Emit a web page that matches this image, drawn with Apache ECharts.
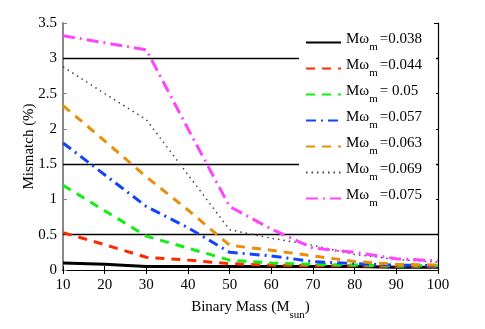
<!DOCTYPE html>
<html>
<head>
<meta charset="utf-8">
<script src="https://cdn.jsdelivr.net/npm/echarts@6/dist/echarts.min.js"></script>
<style>
  html, body { margin: 0; padding: 0; background: #fff; }
  #m1 { width: 485px; height: 329px; }
</style>
</head>
<body>
<div id="m1"></div>
<script>
// binary mass (M_sun)
var masses = [10, 20, 30, 40, 50, 60, 70, 80, 90, 100];
var omegaLabels = ['=0.038', '=0.044', '= 0.05', '=0.057', '=0.063', '=0.069', '=0.075'];

var mm038 = [0.10, 0.08, 0.05, 0.05, 0.05, 0.05, 0.05, 0.05, 0.04, 0.04];
var mm044 = [0.53, 0.36, 0.18, 0.14, 0.09, 0.07, 0.06, 0.06, 0.05, 0.05];
var mm050 = [1.20, 0.84, 0.48, 0.31, 0.14, 0.10, 0.08, 0.07, 0.06, 0.06];
var mm057 = [1.80, 1.35, 0.90, 0.60, 0.25, 0.20, 0.12, 0.09, 0.07, 0.06];
var mm063 = [2.33, 1.83, 1.32, 0.85, 0.35, 0.28, 0.20, 0.12, 0.08, 0.07];
var mm069 = [2.88, 2.50, 2.13, 1.35, 0.57, 0.45, 0.35, 0.22, 0.15, 0.11];
var mm075 = [3.32, 3.22, 3.12, 2.00, 0.90, 0.58, 0.31, 0.25, 0.16, 0.13];

// reference lines
var refLevels = [0.5, 1.5, 3];

var serif = '"Liberation Serif", "DejaVu Serif", serif';

var styles = [
    { data: mm038, color: '#000000', type: 'solid', width: 3 },
    { data: mm044, color: '#ff2a00', type: [9, 7], width: 3 },
    { data: mm050, color: '#11ee11', type: [9, 7], width: 3 },
    { data: mm057, color: '#1144ff', type: [10, 5, 2, 5], width: 3 },
    { data: mm063, color: '#e8900a', type: [9, 7], width: 3 },
    { data: mm069, color: '#444444', type: [1.5, 4], width: 1.5 },
    { data: mm075, color: '#ff44ff', type: [12, 5, 2, 5], width: 3 }
];

function pairs(arr) {
    return arr.map(function (v, i) { return [masses[i], v]; });
}

var series = styles.map(function (s, i) {
    return {
        name: 'Mω_m' + omegaLabels[i],
        type: 'line',
        symbol: 'none',
        data: pairs(s.data),
        lineStyle: { color: s.color, type: s.type, width: s.width },
        itemStyle: { color: s.color },
        z: 3
    };
});

// horizontal black lines
series.push({
    name: 'ref',
    type: 'line',
    data: [],
    silent: true,
    markLine: {
        silent: true,
        symbol: 'none',
        z: 1,
        label: { show: false },
        lineStyle: { color: '#000', type: 'solid', width: 1.3 },
        data: refLevels.map(function (v) { return { yAxis: v }; })
    },
    z: 1
});

var myChart = echarts.init(document.getElementById('m1'));
var option = {
    backgroundColor: '#fff',
    animation: false,
    grid: { left: 63, right: 47, top: 23, bottom: 59 },
    legend: {
        orient: 'vertical',
        left: 299,
        top: 25,
        z: 10,
        padding: [7, 14, 12, 6],
        backgroundColor: '#fff',
        itemWidth: 35,
        itemHeight: 12,
        itemGap: 5,
        itemStyle: { opacity: 0 },
        data: series.slice(0, 7).map(function (s) { return s.name; }),
        formatter: function (name) {
            var i = series.findIndex(function (s) { return s.name === name; });
            return '{a|Mω}{s|m}{b|' + omegaLabels[i] + '}';
        },
        textStyle: {
            color: '#000',
            rich: {
                a: { fontFamily: serif, fontSize: 15, color: '#000', padding: [0, 0, 6, 0] },
                s: { fontFamily: serif, fontSize: 11, color: '#000', padding: [10, 0, 0, 0] },
                b: { fontFamily: serif, fontSize: 15, color: '#000', padding: [0, 0, 6, 2] }
            }
        }
    },
    xAxis: [{
        type: 'value',
        min: 10,
        max: 100,
        interval: 10,
        name: '{a|Binary Mass (M}{s|sun}{a|)}',
        nameLocation: 'middle',
        nameGap: 30,
        nameTextStyle: {
            rich: {
                a: { fontFamily: serif, fontSize: 15, color: '#000', padding: [0, 0, 6, 0] },
                s: { fontFamily: serif, fontSize: 11, color: '#000', padding: [10, 0, 0, 0] }
            }
        },
        axisLine: { lineStyle: { color: '#000', width: 1.2 } },
        axisTick: { inside: true, length: 4, lineStyle: { color: '#000' } },
        axisLabel: { fontFamily: serif, fontSize: 15, color: '#000', margin: 8 },
        splitLine: { show: false }
    }, {
        type: 'value',
        position: 'top',
        min: 10,
        max: 100,
        interval: 10,
        axisLine: { show: true, lineStyle: { color: '#000', width: 1.2 } },
        axisTick: { show: true, inside: true, length: 4, lineStyle: { color: '#000' } },
        axisLabel: { show: false },
        splitLine: { show: false }
    }],
    yAxis: [{
        type: 'value',
        min: 0,
        max: 3.5,
        interval: 0.5,
        name: 'Mismatch (%)',
        nameLocation: 'middle',
        nameGap: 26,
        nameMoveOverlap: false,
        nameTextStyle: { fontFamily: serif, fontSize: 15, color: '#000' },
        axisLine: { show: true, lineStyle: { color: '#888', width: 2 } },
        axisTick: { show: true, inside: true, length: 4, lineStyle: { color: '#888' } },
        axisLabel: { fontFamily: serif, fontSize: 15, color: '#000', margin: 6 },
        splitLine: { show: false }
    }, {
        type: 'value',
        position: 'right',
        min: 0,
        max: 3.5,
        interval: 0.5,
        axisLine: { show: true, lineStyle: { color: '#000', width: 1.2 } },
        axisTick: { show: true, inside: true, length: 4, lineStyle: { color: '#000' } },
        axisLabel: { show: false },
        splitLine: { show: false }
    }],
    series: series
};
myChart.setOption(option);
</script>
</body>
</html>
